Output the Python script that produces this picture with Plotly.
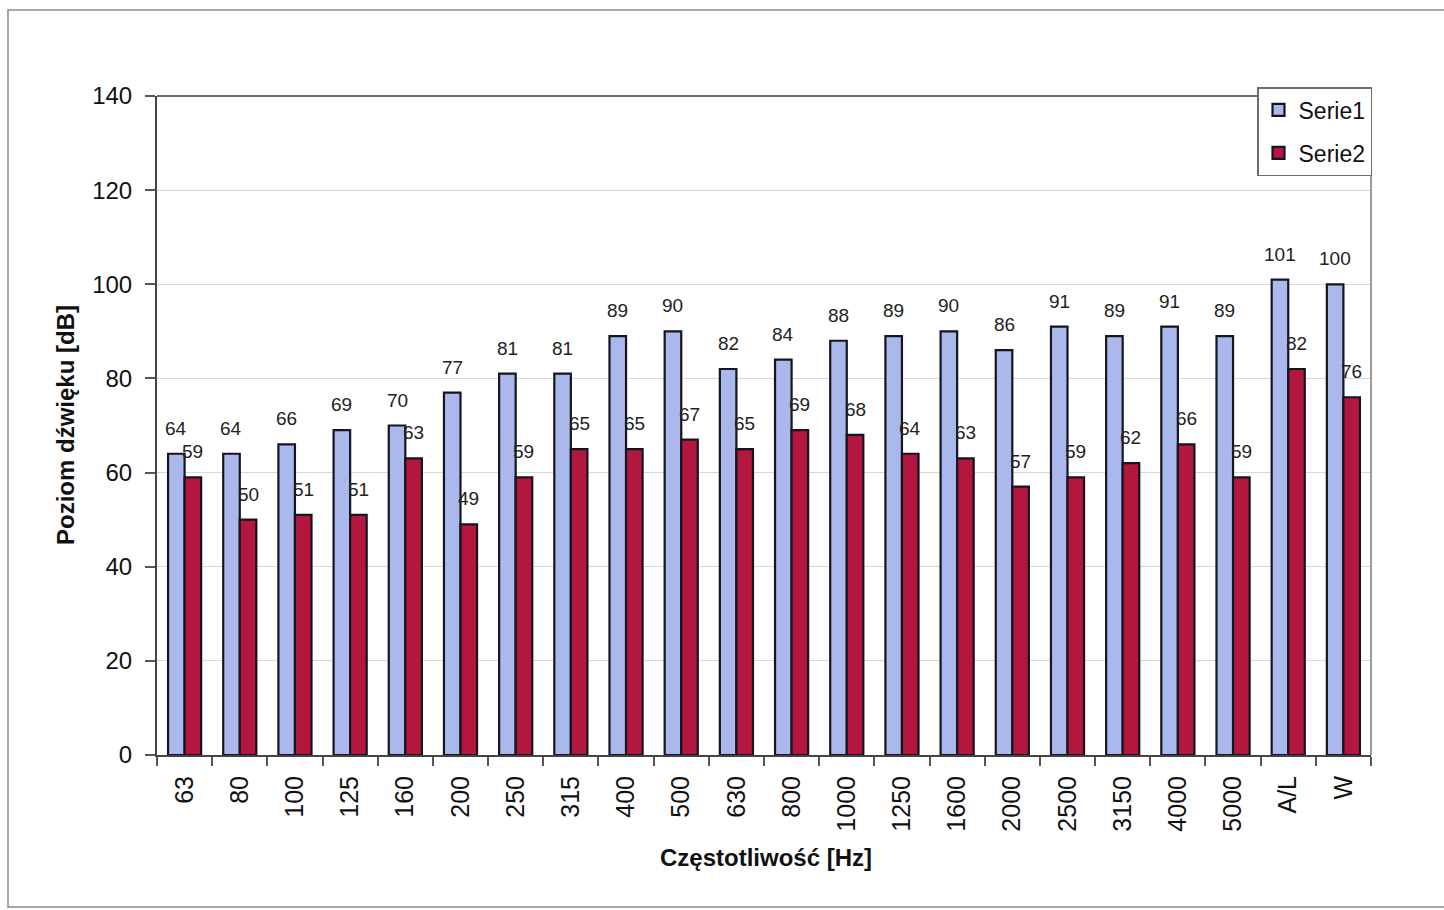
import plotly.graph_objects as go

# Octave-band sound levels
categories = ["63", "80", "100", "125", "160", "200", "250", "315", "400", "500",
              "630", "800", "1000", "1250", "1600", "2000", "2500", "3150", "4000",
              "5000", "A/L", "W"]
serie1 = [64, 64, 66, 69, 70, 77, 81, 81, 89, 90, 82, 84, 88, 89, 90, 86, 91, 89,
          91, 89, 101, 100]
serie2 = [59, 50, 51, 51, 63, 49, 59, 65, 65, 67, 65, 69, 68, 64, 63, 57, 59, 62,
          66, 59, 82, 76]
y_ticks = [0, 20, 40, 60, 80, 100, 120, 140]

FONT = "Liberation Sans, Arial, sans-serif"

W, H = 1444, 910
L, R, T, B = 157, 73, 96, 155
plot_w = W - L - R
plot_h = H - T - B

BLUE = "#abb8ec"
RED = "#b3173d"
EDGE = "#15151f"

fig = go.Figure()
fig.add_trace(go.Bar(
    name="Serie1", x=categories, y=serie1, marker_color=BLUE,
    marker_line=dict(color=EDGE, width=2.2), legendgroup="a",
))
fig.add_trace(go.Bar(
    name="Serie2", x=categories, y=serie2, marker_color=RED,
    marker_line=dict(color=EDGE, width=2.2), legendgroup="b",
))

# value labels above each bar (category axis positions by index)
bargap = 0.4
cat_px = plot_w / len(categories)
bar_px = cat_px * (1 - bargap) / 2
annotations = []
for series, shift in ((serie1, -bar_px / 2), (serie2, bar_px / 2)):
    for i, v in enumerate(series):
        annotations.append(dict(
            x=i, y=v, xref="x", yref="y", text=f"{v:.0f}", showarrow=False,
            xanchor="center", yanchor="bottom", xshift=shift, yshift=13,
            font=dict(family=FONT, size=19, color="#222222"),
        ))

# axis titles
annotations.append(dict(
    x=(65 - L) / plot_w, y=(H - B - 425) / plot_h, xref="paper", yref="paper",
    xanchor="center", yanchor="middle", textangle=-90,
    text="<b>Poziom dźwięku [dB]</b>", showarrow=False,
    font=dict(family=FONT, size=24, color="#111111"),
))
annotations.append(dict(
    x=(766 - L) / plot_w, y=(H - B - 857) / plot_h, xref="paper", yref="paper",
    xanchor="center", yanchor="middle",
    text="<b>Częstotliwość [Hz]</b>", showarrow=False,
    font=dict(family=FONT, size=24, color="#111111"),
))

shapes = [
    # outer chart frame
    dict(type="rect", xref="paper", yref="paper",
         x0=(8 - L) / plot_w, x1=(1452 - L) / plot_w,
         y0=(H - B - 907) / plot_h, y1=(H - B - 10) / plot_h,
         line=dict(color="#8a8a8a", width=1.5), layer="below"),
    # plot area frame (top and right)
    dict(type="line", xref="paper", yref="paper", x0=0, x1=1, y0=1, y1=1,
         line=dict(color="#6e6e6e", width=2)),
    dict(type="line", xref="paper", yref="paper", x0=1, x1=1, y0=0, y1=1,
         line=dict(color="#7a7a7a", width=1.5)),
]

fig.update_layout(
    width=W, height=H,
    margin=dict(l=L, r=R, t=T, b=B),
    paper_bgcolor="white", plot_bgcolor="white",
    barmode="group", bargap=bargap, bargroupgap=0,
    showlegend=True,
    legend=dict(
        x=(1257 - L) / plot_w, y=(H - B - 87) / plot_h,
        xanchor="left", yanchor="top",
        bgcolor="white", bordercolor="#6e6e6e", borderwidth=1.5,
        font=dict(family=FONT, size=23, color="#111111"),
        tracegroupgap=10, itemwidth=30,
    ),
    annotations=annotations,
    shapes=shapes,
    xaxis=dict(
        type="category", range=[-0.5, len(categories) - 0.5],
        tickangle=-90, tickson="boundaries",
        ticks="outside", ticklen=9, tickcolor="#555555", tickwidth=1.5,
        showline=True, linecolor="#444444", linewidth=2,
        showgrid=False,
        tickfont=dict(family=FONT, size=25, color="#111111"),
        ticklabelstandoff=9,
    ),
    yaxis=dict(
        range=[0, 140], tickvals=y_ticks,
        ticks="outside", ticklen=10, tickcolor="#555555", tickwidth=1.5,
        showline=True, linecolor="#444444", linewidth=2,
        showgrid=True, gridcolor="#d8d8d8", gridwidth=1,
        zeroline=False,
        tickfont=dict(family=FONT, size=24, color="#111111"),
        ticklabelstandoff=8,
    ),
)

fig.write_html("out.html")
